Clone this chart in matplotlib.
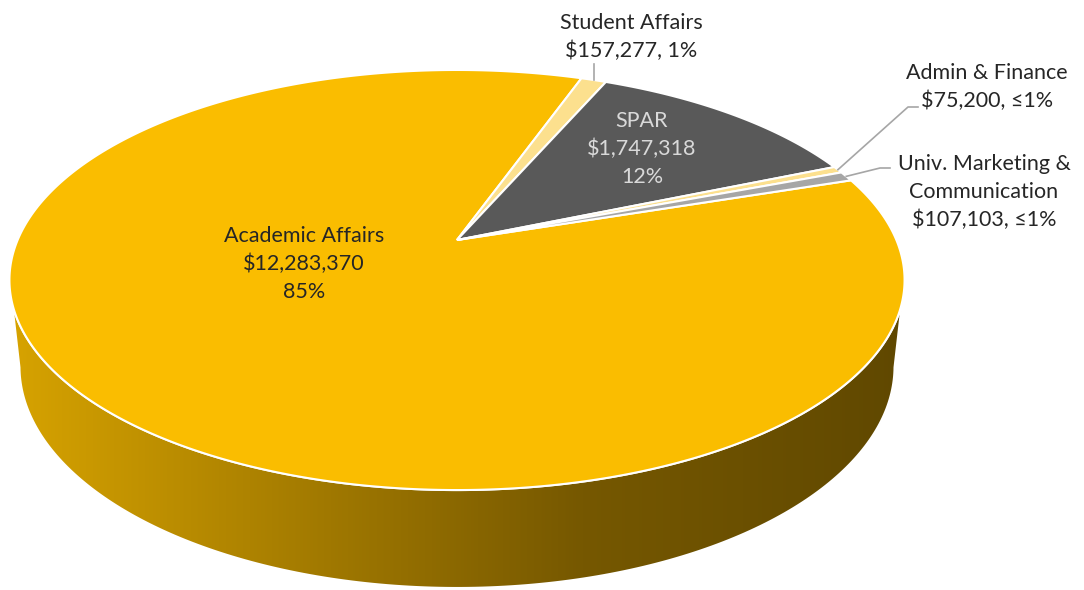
import numpy as np
import matplotlib.pyplot as plt
from matplotlib.colors import LinearSegmentedColormap
from matplotlib.patches import Polygon

plt.rcParams['font.family'] = ['Lato', 'DejaVu Sans']

# data
names = ['Academic Affairs', 'Student Affairs', 'SPAR', 'Admin & Finance',
         'Univ. Marketing &\nCommunication']
amounts = [12283370, 157277, 1747318, 75200, 107103]
pct_labels = ['85%', '1%', '12%', '≤1%', '≤1%']
colors = ['#FABD00', '#FCE08E', '#595959', '#FCE08E', '#A6A6A6']

# 3d view of the pie (perspective camera looking down)
elev = np.arcsin(0.4607)
dist = 4.659
focal = 2047.0
cx, cy = 457.0, 240.0
thick = 0.223
start = 18.2  # degrees, slices go clockwise


def project(X, Y, Z=0.0):
    depth = dist + Y * np.cos(elev) - Z * np.sin(elev)
    sx = cx + focal * X / depth
    sy = cy - focal * (Y * np.sin(elev) + Z * np.cos(elev)) / depth
    return sx, sy


def rim(phi, Z=0.0):
    return project(np.cos(phi), np.sin(phi), Z)


fig = plt.figure(figsize=(10.84, 5.90), dpi=100)
ax = fig.add_axes([0, 0, 1, 1])
ax.set_xlim(0, 1084)
ax.set_ylim(590, 0)
ax.axis('off')

# side wall with shading
side = np.arcsin(np.cos(elev) / dist)
phi = np.linspace(np.pi + side, 2 * np.pi - side, 200)
tx, ty = rim(phi)
bx, by = rim(phi[::-1], -thick)
wall_xy = np.column_stack([np.concatenate([tx, bx]), np.concatenate([ty, by])])
wall = Polygon(wall_xy, closed=True, facecolor='none', edgecolor='white', lw=1.5, zorder=3)
ax.add_patch(wall)
shade = LinearSegmentedColormap.from_list('wall', [
    (0.0, (215/255, 163/255, 0)),
    (0.41, (152/255, 114/255, 0)),
    (0.64, (118/255, 88/255, 0)),
    (1.0, (96/255, 72/255, 0))])
grad = np.linspace(0, 1, 512).reshape(1, -1)
img = ax.imshow(grad, cmap=shade, aspect='auto', zorder=2,
                extent=[wall_xy[:, 0].min(), wall_xy[:, 0].max(),
                        wall_xy[:, 1].max(), wall_xy[:, 1].min()])
img.set_clip_path(wall)
ax.set_xlim(0, 1084)
ax.set_ylim(590, 0)

# top face slices
total = sum(amounts)
mids = []
a0 = start
for amt, col in zip(amounts, colors):
    span = amt / total * 360
    th = np.radians(np.linspace(a0, a0 - span, max(int(span * 2), 3)))
    px, py = rim(th)
    ox, oy = project(0, 0)
    xy = np.column_stack([np.r_[ox, px], np.r_[oy, py]])
    ax.add_patch(Polygon(xy, closed=True, facecolor=col, edgecolor='white',
                         lw=1.5, zorder=4))
    mids.append(np.radians(a0 - span / 2))
    a0 -= span

# labels
fs = 15.5
ls = 1.48
dark = '#262626'
ax.text(304, 264, '%s\n$%s\n%s' % (names[0], format(amounts[0], ','), pct_labels[0]),
        ha='center', va='center', fontsize=fs, color=dark, linespacing=ls, zorder=6)
ax.text(642, 149, '%s\n$%s\n%s' % (names[2], format(amounts[2], ','), pct_labels[2]),
        ha='center', va='center', fontsize=fs, color='#D9D9D9', linespacing=ls, zorder=6)
ax.text(631, 37, '%s\n$%s, %s' % (names[1], format(amounts[1], ','), pct_labels[1]),
        ha='center', va='center', fontsize=fs, color=dark, linespacing=ls, zorder=6)
ax.text(987, 87, '%s\n$%s, %s' % (names[3], format(amounts[3], ','), pct_labels[3]),
        ha='center', va='center', fontsize=fs, color=dark, linespacing=ls, zorder=6)
ax.text(984, 192, '%s\n$%s, %s' % (names[4], format(amounts[4], ','), pct_labels[4]),
        ha='center', va='center', fontsize=fs, color=dark, linespacing=ls, zorder=6)

# leader lines
lc = '#A6A6A6'
sx, sy = rim(mids[1])
ax.plot([sx, sx], [sy, 64], color=lc, lw=1.2, zorder=5)
sx, sy = rim(mids[3])
ax.plot([sx, 908, 918], [sy, 107, 107], color=lc, lw=1.2, zorder=5)
sx, sy = rim(mids[4])
ax.plot([sx, 880, 890], [sy, 168, 168], color=lc, lw=1.2, zorder=5)

fig.savefig('out.png', dpi=100)
